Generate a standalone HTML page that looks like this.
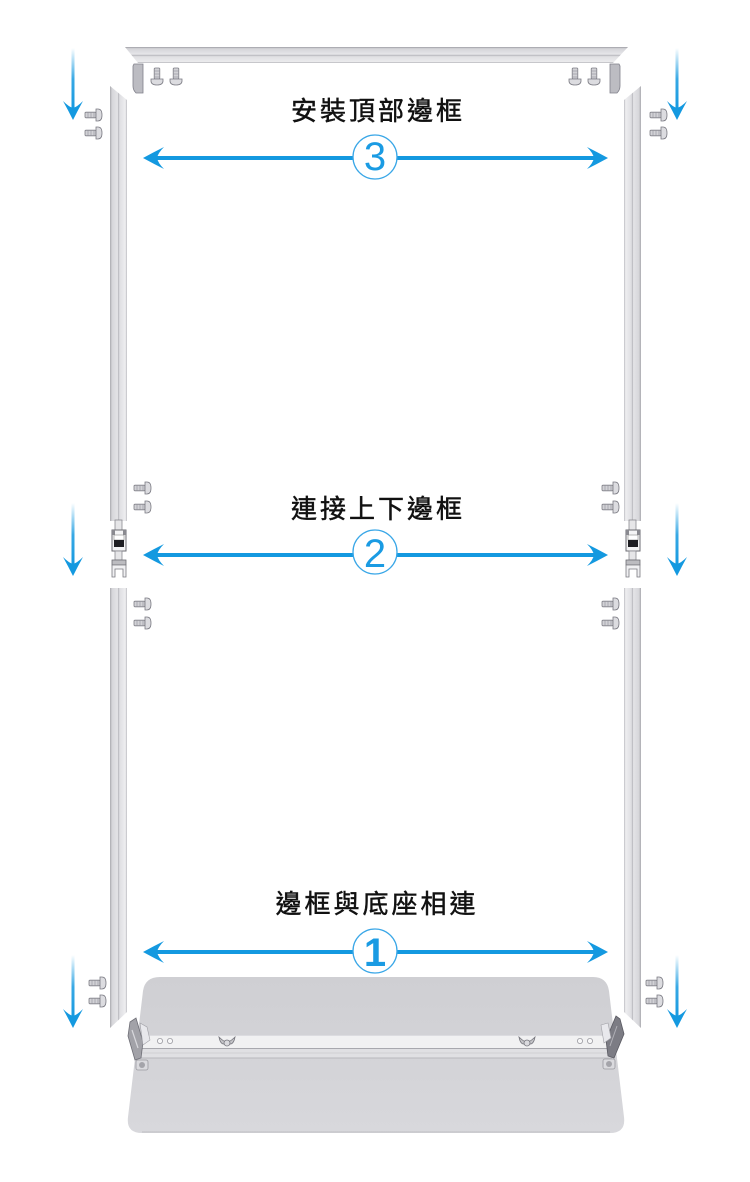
<!DOCTYPE html>
<html>
<head>
<meta charset="utf-8">
<style>
html,body{margin:0;padding:0;background:#fff;}
svg{display:block;}
</style>
</head>
<body>
<svg width="750" height="1182" viewBox="0 0 750 1182" xmlns="http://www.w3.org/2000/svg">
<defs>
  <linearGradient id="vbar" x1="0" y1="0" x2="1" y2="0">
    <stop offset="0" stop-color="#a9a9ae"/>
    <stop offset="0.12" stop-color="#d6d6da"/>
    <stop offset="0.45" stop-color="#e4e4e7"/>
    <stop offset="0.5" stop-color="#b4b4b9"/>
    <stop offset="0.56" stop-color="#dedee2"/>
    <stop offset="0.9" stop-color="#eeeef0"/>
    <stop offset="1" stop-color="#bdbdc2"/>
  </linearGradient>
  <linearGradient id="vbarR" x1="1" y1="0" x2="0" y2="0">
    <stop offset="0" stop-color="#a9a9ae"/>
    <stop offset="0.12" stop-color="#d6d6da"/>
    <stop offset="0.45" stop-color="#e4e4e7"/>
    <stop offset="0.5" stop-color="#b4b4b9"/>
    <stop offset="0.56" stop-color="#dedee2"/>
    <stop offset="0.9" stop-color="#eeeef0"/>
    <stop offset="1" stop-color="#bdbdc2"/>
  </linearGradient>
  <linearGradient id="hbar" x1="0" y1="0" x2="0" y2="1">
    <stop offset="0" stop-color="#9c9ca2"/>
    <stop offset="0.1" stop-color="#d4d4d8"/>
    <stop offset="0.45" stop-color="#e6e6e9"/>
    <stop offset="0.52" stop-color="#b9b9be"/>
    <stop offset="0.6" stop-color="#e0e0e3"/>
    <stop offset="0.92" stop-color="#ebebed"/>
    <stop offset="1" stop-color="#b0b0b5"/>
  </linearGradient>
  <linearGradient id="darr" x1="0" y1="0" x2="0" y2="1">
    <stop offset="0" stop-color="#1499e0" stop-opacity="0"/>
    <stop offset="0.5" stop-color="#1499e0" stop-opacity="0.85"/>
    <stop offset="1" stop-color="#1499e0"/>
  </linearGradient>
  <linearGradient id="plate" x1="0" y1="0" x2="0" y2="1">
    <stop offset="0" stop-color="#cfcfd3"/>
    <stop offset="0.6" stop-color="#d4d4d8"/>
    <stop offset="1" stop-color="#d8d8dc"/>
  </linearGradient>

  <g id="screwH">
    <rect x="0" y="-2.8" width="11" height="5.6" rx="1" fill="#d2d2d6" stroke="#7f7f87" stroke-width="0.8"/>
    <line x1="3" y1="-2.8" x2="3" y2="2.8" stroke="#9a9aa2" stroke-width="0.7"/>
    <line x1="6" y1="-2.8" x2="6" y2="2.8" stroke="#9a9aa2" stroke-width="0.7"/>
    <line x1="9" y1="-2.8" x2="9" y2="2.8" stroke="#9a9aa2" stroke-width="0.7"/>
    <path d="M11,-6 L13,-6 Q17,-6 17,0 Q17,6 13,6 L11,6 Z" fill="#dcdce0" stroke="#7a7a82" stroke-width="0.8"/>
  </g>
  <g id="screwV">
    <rect x="-2.8" y="0" width="5.6" height="11" rx="1" fill="#d2d2d6" stroke="#7f7f87" stroke-width="0.8"/>
    <line x1="-2.8" y1="3" x2="2.8" y2="3" stroke="#9a9aa2" stroke-width="0.7"/>
    <line x1="-2.8" y1="6" x2="2.8" y2="6" stroke="#9a9aa2" stroke-width="0.7"/>
    <line x1="-2.8" y1="9" x2="2.8" y2="9" stroke="#9a9aa2" stroke-width="0.7"/>
    <path d="M-6,11 L-6,13 Q-6,17 0,17 Q6,17 6,13 L6,11 Z" fill="#dcdce0" stroke="#7a7a82" stroke-width="0.8"/>
  </g>
  <g id="conn">
    <rect x="4" y="0" width="7" height="11" fill="#e6e6e8" stroke="#8a8a90" stroke-width="0.8"/>
    <rect x="1" y="10" width="14" height="21" fill="#f4f4f5" stroke="#6e6e74" stroke-width="1"/>
    <rect x="1" y="10" width="3" height="5" fill="#8a8a90"/>
    <rect x="12" y="10" width="3" height="5" fill="#8a8a90"/>
    <rect x="3" y="15" width="10" height="5" fill="#ffffff" stroke="#888" stroke-width="0.6"/>
    <rect x="3" y="20" width="10" height="7" fill="#1e1e22"/>
    <rect x="4" y="31" width="7" height="9" fill="#e6e6e8" stroke="#8a8a90" stroke-width="0.8"/>
    <rect x="1" y="40" width="14" height="5" fill="#bcbcc0" stroke="#6e6e74" stroke-width="0.8"/>
    <path d="M1,45 L15,45 L15,57 L12,57 L12,49 L4,49 L4,57 L1,57 Z" fill="#f0f0f2" stroke="#7a7a80" stroke-width="0.8"/>
  </g>
  <g id="larrow">
    <path d="M0,0 Q11,-6 21,-11 Q15,-5 14,0 Q15,5 21,11 Q11,6 0,0 Z" fill="#1499e0"/>
  </g>
  <g id="darrowhead">
    <path d="M0,0 Q-5,-10 -10,-19 Q-4,-13 0,-12 Q4,-13 10,-19 Q5,-10 0,0 Z" fill="#1499e0"/>
  </g>
</defs>

<!-- Base plate -->
<path d="M160,977 L593,977 Q607,977 609,991 L624,1117 Q626,1133 610,1133 L142,1133 Q126,1133 128,1117 L143,991 Q145,977 160,977 Z" fill="url(#plate)"/>
<path d="M142,1132 L610,1132" stroke="#c4c4c8" stroke-width="1.2"/>

<!-- Rail -->
<rect x="140" y="1035" width="472" height="13" fill="#f1f1f2"/>
<line x1="140" y1="1035.5" x2="612" y2="1035.5" stroke="#dcdce0" stroke-width="1"/>
<rect x="140" y="1048" width="472" height="10" fill="#e0e0e3"/>
<line x1="140" y1="1048.5" x2="612" y2="1048.5" stroke="#a8a8ae" stroke-width="1"/>
<line x1="140" y1="1053" x2="612" y2="1053" stroke="#cacace" stroke-width="0.8"/>
<line x1="140" y1="1058" x2="612" y2="1058" stroke="#b8b8bd" stroke-width="1"/>
<!-- holes -->
<circle cx="160" cy="1041" r="2.6" fill="#f7f7f8" stroke="#9a9aa0" stroke-width="0.8"/>
<circle cx="170" cy="1041" r="2.6" fill="#f7f7f8" stroke="#9a9aa0" stroke-width="0.8"/>
<circle cx="580" cy="1041" r="2.6" fill="#f7f7f8" stroke="#9a9aa0" stroke-width="0.8"/>
<circle cx="590" cy="1041" r="2.6" fill="#f7f7f8" stroke="#9a9aa0" stroke-width="0.8"/>
<!-- wing nuts -->
<g transform="translate(227,1041)">
  <path d="M-8,-4 Q-5,-1 -3,0 L3,0 Q5,-1 8,-4 Q7,2 4,3 L-4,3 Q-7,2 -8,-4 Z" fill="#c4c4c8" stroke="#77777e" stroke-width="0.8"/>
  <circle cx="0" cy="2" r="3" fill="#dadade" stroke="#77777e" stroke-width="0.8"/>
</g>
<g transform="translate(527,1041)">
  <path d="M-8,-4 Q-5,-1 -3,0 L3,0 Q5,-1 8,-4 Q7,2 4,3 L-4,3 Q-7,2 -8,-4 Z" fill="#c4c4c8" stroke="#77777e" stroke-width="0.8"/>
  <circle cx="0" cy="2" r="3" fill="#dadade" stroke="#77777e" stroke-width="0.8"/>
</g>
<!-- left bracket -->
<path d="M130,1022 L136,1018 L143,1042 L141,1058 L135,1060 L128,1036 Z" fill="#a2a2a8" stroke="#6e6e76" stroke-width="0.8"/>
<line x1="132" y1="1030" x2="138" y2="1048" stroke="#d8d8dc" stroke-width="1.2"/>
<path d="M140,1023 L147,1027 L150,1040 L143,1045 Z" fill="#e8e8ec" stroke="#a0a0a6" stroke-width="0.6"/>
<rect x="136" y="1060" width="12" height="10" rx="2" fill="#dadade" stroke="#9a9aa0" stroke-width="0.8"/>
<circle cx="142" cy="1065" r="3" fill="#a4a4aa"/>
<!-- right bracket -->
<path d="M620,1019 L616,1016 L606,1040 L608,1056 L614,1058 L624,1034 Z" fill="#7c7c84" stroke="#5a5a62" stroke-width="0.8"/>
<line x1="617" y1="1026" x2="610" y2="1046" stroke="#b0b0b6" stroke-width="1"/>
<path d="M601,1025 L608,1023 L611,1038 L604,1043 Z" fill="#e8e8ec" stroke="#a0a0a6" stroke-width="0.6"/>
<rect x="603" y="1059" width="12" height="10" rx="2" fill="#dadade" stroke="#9a9aa0" stroke-width="0.8"/>
<circle cx="609" cy="1064" r="3" fill="#a4a4aa"/>

<!-- Top bar -->
<path d="M125,47 L628,47 L613,63 L138,63 Z" fill="url(#hbar)"/>
<!-- top brackets -->
<path d="M134,64 L143,64 L143,93 L136,93 Q133,90 133,86 L133,66 Z" fill="#bcbcc2" stroke="#80808a" stroke-width="0.8"/>
<path d="M610,64 L619,64 L620,66 L620,86 Q620,90 617,93 L610,93 Z" fill="#bcbcc2" stroke="#80808a" stroke-width="0.8"/>
<use href="#screwV" x="157" y="68"/>
<use href="#screwV" x="176" y="68"/>
<use href="#screwV" x="575" y="68"/>
<use href="#screwV" x="594" y="68"/>

<!-- Left vertical bars -->
<path d="M110,86 L127,100 L127,521 L110,521 Z" fill="url(#vbar)"/>
<path d="M110,588 L127,588 L127,1012 L110,1028 Z" fill="url(#vbar)"/>
<!-- Right vertical bars -->
<path d="M641,86 L624,100 L624,521 L641,521 Z" fill="url(#vbarR)"/>
<path d="M641,588 L624,588 L624,1012 L641,1028 Z" fill="url(#vbarR)"/>

<!-- Connectors -->
<use href="#conn" x="111" y="520"/>
<use href="#conn" x="625" y="520"/>

<!-- Screws -->
<use href="#screwH" x="85" y="115"/>
<use href="#screwH" x="85" y="133"/>
<use href="#screwH" x="650" y="115"/>
<use href="#screwH" x="650" y="133"/>
<use href="#screwH" x="134" y="488"/>
<use href="#screwH" x="134" y="507"/>
<use href="#screwH" x="134" y="604"/>
<use href="#screwH" x="134" y="623"/>
<use href="#screwH" x="602" y="488"/>
<use href="#screwH" x="602" y="507"/>
<use href="#screwH" x="602" y="604"/>
<use href="#screwH" x="602" y="623"/>
<use href="#screwH" x="89" y="983"/>
<use href="#screwH" x="89" y="1001"/>
<use href="#screwH" x="646" y="983"/>
<use href="#screwH" x="646" y="1001"/>

<!-- Down arrows -->
<rect x="71.5" y="48" width="3" height="62" fill="url(#darr)"/>
<use href="#darrowhead" x="73" y="120"/>
<rect x="675.5" y="48" width="3" height="62" fill="url(#darr)"/>
<use href="#darrowhead" x="677" y="120"/>
<rect x="71.5" y="503" width="3" height="64" fill="url(#darr)"/>
<use href="#darrowhead" x="73" y="576"/>
<rect x="675.5" y="503" width="3" height="64" fill="url(#darr)"/>
<use href="#darrowhead" x="677" y="576"/>
<rect x="71.5" y="955" width="3" height="64" fill="url(#darr)"/>
<use href="#darrowhead" x="73" y="1028"/>
<rect x="675.5" y="955" width="3" height="64" fill="url(#darr)"/>
<use href="#darrowhead" x="677" y="1028"/>

<!-- Horizontal arrow 3 -->
<line x1="152" y1="158" x2="353" y2="158" stroke="#1499e0" stroke-width="4"/>
<line x1="397" y1="158" x2="600" y2="158" stroke="#1499e0" stroke-width="4"/>
<use href="#larrow" x="143" y="158"/>
<use href="#larrow" transform="translate(608,158) scale(-1,1)"/>
<circle cx="375" cy="157" r="22" fill="#fff" stroke="#3aa7e7" stroke-width="1.3"/>
<text x="375" y="170" text-anchor="middle" font-family="'Liberation Sans', sans-serif" font-size="40" fill="#1a9be3">3</text>

<!-- Horizontal arrow 2 -->
<line x1="152" y1="555" x2="353" y2="555" stroke="#1499e0" stroke-width="4"/>
<line x1="397" y1="555" x2="600" y2="555" stroke="#1499e0" stroke-width="4"/>
<use href="#larrow" x="143" y="555"/>
<use href="#larrow" transform="translate(608,555) scale(-1,1)"/>
<circle cx="375" cy="552" r="22" fill="#fff" stroke="#3aa7e7" stroke-width="1.3"/>
<text x="375" y="567" text-anchor="middle" font-family="'Liberation Sans', sans-serif" font-size="40" fill="#1a9be3">2</text>

<!-- Horizontal arrow 1 -->
<line x1="152" y1="952" x2="353" y2="952" stroke="#1499e0" stroke-width="4"/>
<line x1="397" y1="952" x2="600" y2="952" stroke="#1499e0" stroke-width="4"/>
<use href="#larrow" x="143" y="952"/>
<use href="#larrow" transform="translate(608,952) scale(-1,1)"/>
<circle cx="375" cy="951" r="22" fill="#fff" stroke="#3aa7e7" stroke-width="1.3"/>
<text x="375" y="966" text-anchor="middle" font-family="'Liberation Sans', sans-serif" font-size="40" font-weight="bold" fill="#1a9be3">1</text>

<!-- Labels -->
<text x="378" y="120" text-anchor="middle" font-family="'Liberation Sans', 'Noto Sans CJK TC', sans-serif" font-size="26" letter-spacing="3" fill="#111" stroke="#111" stroke-width="0.45">安裝頂部邊框</text>
<text x="378" y="518" text-anchor="middle" font-family="'Liberation Sans', 'Noto Sans CJK TC', sans-serif" font-size="26" letter-spacing="3" fill="#111" stroke="#111" stroke-width="0.45">連接上下邊框</text>
<text x="377" y="913" text-anchor="middle" font-family="'Liberation Sans', 'Noto Sans CJK TC', sans-serif" font-size="26" letter-spacing="3" fill="#111" stroke="#111" stroke-width="0.45">邊框與底座相連</text>
</svg>
</body>
</html>
